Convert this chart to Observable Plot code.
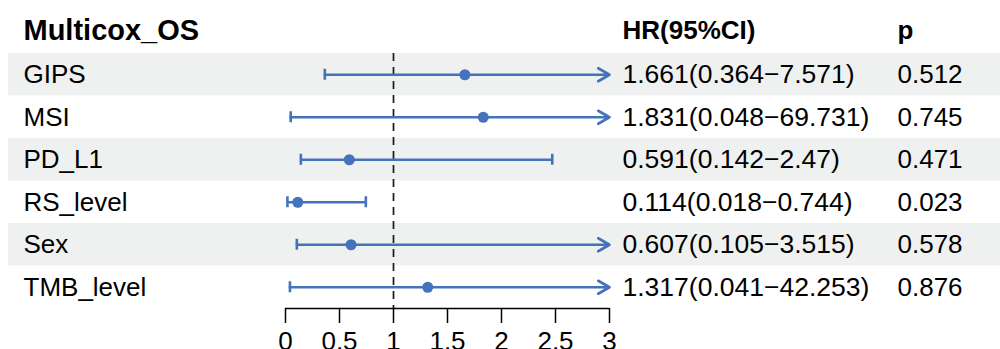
<!DOCTYPE html>
<html>
<head>
<meta charset="utf-8">
<script src="https://cdn.jsdelivr.net/npm/d3@7"></script>
<script src="https://cdn.jsdelivr.net/npm/@observablehq/plot@0.6"></script>
<style>
  body { margin: 0; background: #fff; }
</style>
</head>
<body>
<div id="chart"></div>
<script>
// Multivariate Cox regression (overall survival): hazard ratios with 95% CI
const title = "Multicox_OS";
const headers = ["HR(95%CI)", "p"];
const variables = ["GIPS", "MSI", "PD_L1", "RS_level", "Sex", "TMB_level"];
const hr = [1.661, 1.831, 0.591, 0.114, 0.607, 1.317];
const lower = [0.364, 0.048, 0.142, 0.018, 0.105, 0.041];
const upper = [7.571, 69.731, 2.47, 0.744, 3.515, 42.253];
const pValues = ["0.512", "0.745", "0.471", "0.023", "0.578", "0.876"];
const xTicks = [0, 0.5, 1, 1.5, 2, 2.5, 3];
const xMax = 3;

const blue = "#4573bb";
const font = "'Liberation Sans', Arial, Helvetica, sans-serif";

const rows = variables.map((name, i) => ({
  name, i,
  hr: hr[i], lo: lower[i], hi: upper[i], p: pValues[i],
  label: `${hr[i]}(${lower[i]}\u2212${upper[i]})`
}));
const inside = rows.filter(d => d.hi <= xMax);
const clipped = rows.filter(d => d.hi > xMax);
const shaded = rows.filter(d => d.i % 2 === 0);
const last = variables.length - 0.5;

const chart = Plot.plot({
  width: 1000,
  height: 349,
  marginTop: 53,
  marginBottom: 41,
  marginLeft: 8,
  marginRight: 0,
  style: {fontFamily: font, fontSize: "26px", color: "#000", background: "#fff"},
  x: {domain: [0, xMax], range: [285, 609]},
  y: {domain: [-0.5, last], reverse: true, axis: null},
  marks: [
    // alternating row shading
    Plot.rect(shaded, {y1: d => d.i - 0.5, y2: d => d.i + 0.5, fill: "#eff1f0"}),
    // reference line at HR = 1
    Plot.ruleX([1], {stroke: "#1a1a1a", strokeWidth: 1.7, strokeDasharray: "8,6"}),
    // confidence intervals within range
    Plot.ruleY(inside, {x1: "lo", x2: "hi", y: "i", stroke: blue, strokeWidth: 2.6}),
    // intervals running past the axis end get an arrowhead
    Plot.arrow(clipped, {
      x1: "lo", x2: d => Math.min(d.hi, xMax), y1: "i", y2: "i",
      stroke: blue, strokeWidth: 2.6, headLength: 7.5, headAngle: 60
    }),
    // interval caps
    Plot.ruleX(rows, {x: "lo", y1: "i", y2: "i", insetTop: -5.5, insetBottom: -5.5, stroke: blue, strokeWidth: 2.6}),
    Plot.ruleX(inside, {x: "hi", y1: "i", y2: "i", insetTop: -5.5, insetBottom: -5.5, stroke: blue, strokeWidth: 2.6}),
    // point estimates
    Plot.dot(rows, {x: "hr", y: "i", r: 5.5, fill: blue}),
    // table columns
    Plot.text([title], {y: -1, frameAnchor: "left", dx: 15, dy: -2, text: d => d, fontWeight: "bold", fontSize: 29, textAnchor: "start"}),
    Plot.text([headers[0]], {y: -1, frameAnchor: "left", dx: 614, dy: -2, text: d => d, fontWeight: "bold", fontSize: 26, textAnchor: "start"}),
    Plot.text([headers[1]], {y: -1, frameAnchor: "left", dx: 889, dy: -2, text: d => d, fontWeight: "bold", fontSize: 26, textAnchor: "start"}),
    Plot.text(rows, {y: "i", text: "name", frameAnchor: "left", dx: 15, fontSize: 26, textAnchor: "start"}),
    Plot.text(rows, {y: "i", text: "label", frameAnchor: "left", dx: 614, fontSize: 26.5, textAnchor: "start"}),
    Plot.text(rows, {y: "i", text: "p", frameAnchor: "left", dx: 889, fontSize: 26, textAnchor: "start"}),
    // x axis
    Plot.ruleY([last], {x1: 0, x2: xMax, stroke: "#000", strokeWidth: 1.5}),
    Plot.axisX(xTicks, {
      anchor: "bottom", tickSize: 15, tickPadding: 8, fontSize: 26,
      strokeWidth: 1.5, label: null, tickFormat: d => String(d)
    })
  ]
});

document.getElementById("chart").appendChild(chart);
</script>
</body>
</html>
